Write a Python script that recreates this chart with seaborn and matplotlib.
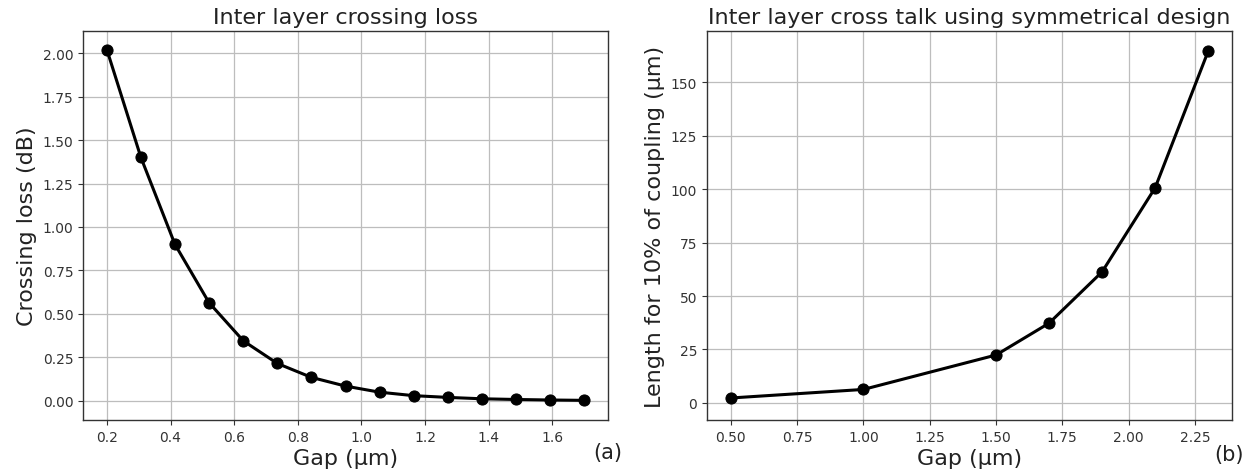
import numpy as np
import pandas as pd
import matplotlib
matplotlib.use("Agg")
import matplotlib.pyplot as plt
import seaborn as sns

# Data
gap_a = [0.2, 0.307, 0.414, 0.521, 0.629, 0.736, 0.843, 0.950, 1.057, 1.164, 1.271, 1.379, 1.486, 1.593, 1.7]
loss_a = [2.02, 1.40, 0.90, 0.565, 0.345, 0.215, 0.135, 0.085, 0.05, 0.03, 0.02, 0.012, 0.008, 0.005, 0.003]
gap_b = [0.5, 1.0, 1.5, 1.7, 1.9, 2.1, 2.3]
len_b = [2.3, 6.3, 22.4, 37.3, 61.3, 100.6, 164.5]

sns.set_style("ticks")
plt.rcParams['font.family'] = ['DejaVu Sans']

W, H = 1248, 477
fig = plt.figure(figsize=(W/100, H/100), dpi=100)
ax1 = fig.add_axes([83/W, 1-421/H, (608-83)/W, (421-32)/H])
ax2 = fig.add_axes([707/W, 1-421/H, (1232-707)/W, (421-32)/H])

df_a = pd.DataFrame({"gap": gap_a, "loss": loss_a})
df_b = pd.DataFrame({"gap": gap_b, "len": len_b})

sns.lineplot(data=df_a, x="gap", y="loss", ax=ax1, color="black", linewidth=2.2,
             marker="o", markersize=8, markeredgecolor="black")
sns.lineplot(data=df_b, x="gap", y="len", ax=ax2, color="black", linewidth=2.2,
             marker="o", markersize=8, markeredgecolor="black")

ax1.set_xlim(0.125, 1.775)
ax1.set_ylim(-0.11, 2.127)
ax1.set_xticks([0.2, 0.4, 0.6, 0.8, 1.0, 1.2, 1.4, 1.6])
ax1.set_yticks([0.0, 0.25, 0.5, 0.75, 1.0, 1.25, 1.5, 1.75, 2.0])
ax1.yaxis.set_major_formatter(matplotlib.ticker.FormatStrFormatter('%.2f'))

ax2.set_xlim(0.41, 2.39)
ax2.set_ylim(-8, 174)
ax2.set_xticks([0.5, 0.75, 1.0, 1.25, 1.5, 1.75, 2.0, 2.25])
ax2.xaxis.set_major_formatter(matplotlib.ticker.FormatStrFormatter('%.2f'))
ax2.set_yticks([0, 25, 50, 75, 100, 125, 150])

for ax in (ax1, ax2):
    ax.grid(True, color="#bdbdbd", linewidth=0.9)
    ax.tick_params(labelsize=10, color="#333333", labelcolor="#333333")
    for s in ax.spines.values():
        s.set_color("#333333")
        s.set_linewidth(1.0)

ax1.set_title("Inter layer crossing loss", fontsize=16, color="#222222")
ax1.set_xlabel("Gap (µm)", fontsize=16, color="#222222", labelpad=3)
ax1.set_ylabel("Crossing loss (dB)", fontsize=16, color="#222222")
ax2.set_title("Inter layer cross talk using symmetrical design", fontsize=16, color="#222222")
ax2.set_xlabel("Gap (µm)", fontsize=16, color="#222222", labelpad=3)
ax2.set_ylabel("Length for 10% of coupling (µm)", fontsize=16, color="#222222")

fig.text(593/W, 1-453/H, "(a)", fontsize=15, color="#222222", ha="left", va="center")
fig.text(1214/W, 1-455/H, "(b)", fontsize=15, color="#222222", ha="left", va="center")

fig.savefig("out.png", dpi=100)
